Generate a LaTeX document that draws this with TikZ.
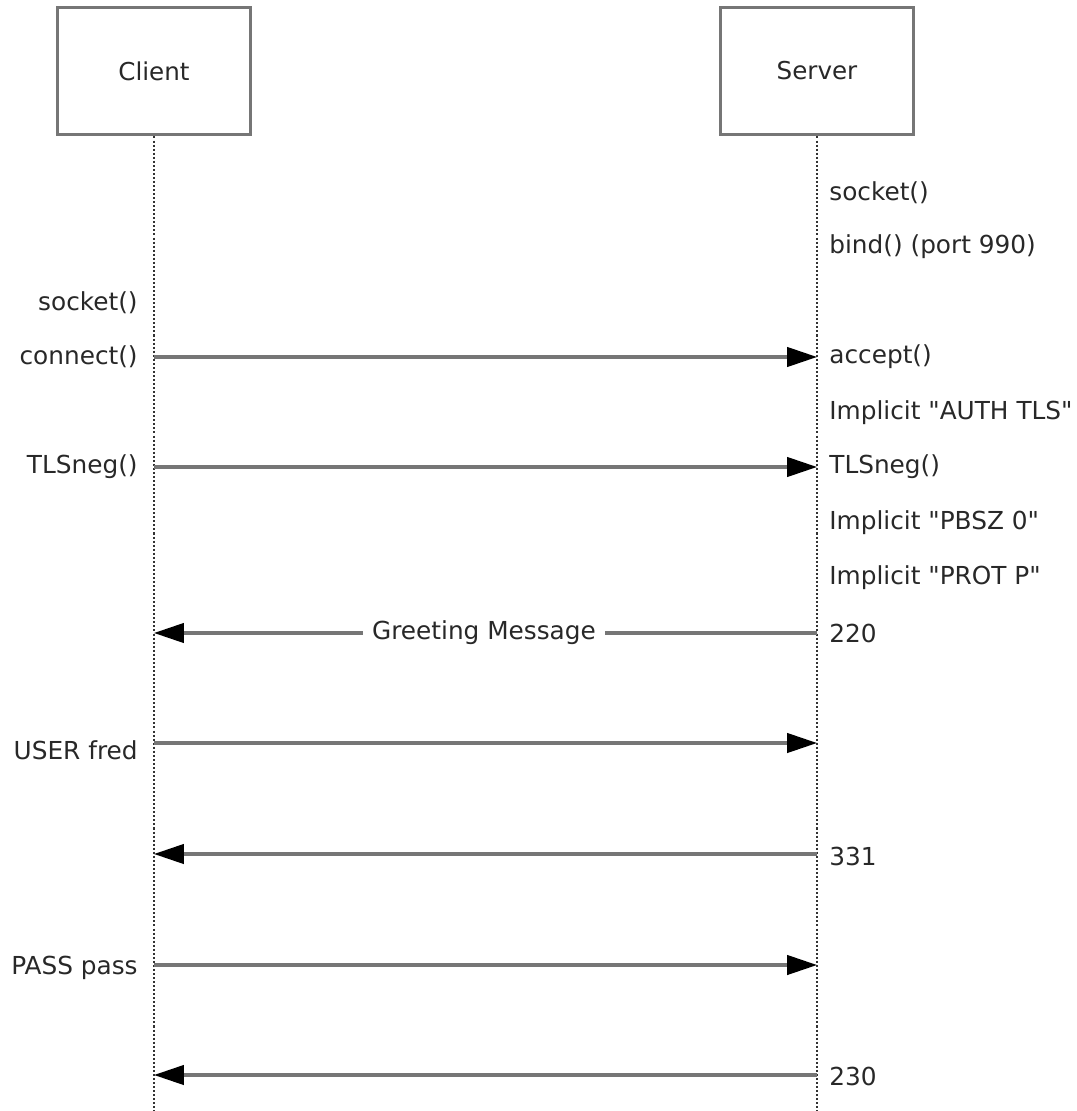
\documentclass[tikz,border=0pt]{standalone}
\usepackage{fontspec}
\setmainfont{DejaVu Sans}
\usetikzlibrary{positioning}
\usetikzlibrary{arrows.meta}
\definecolor{linegray}{RGB}{118,118,118}
\definecolor{dotgray}{RGB}{50,50,50}
\definecolor{textgray}{RGB}{40,40,40}

\begin{document}
\begin{tikzpicture}[x=0.02cm, y=-0.02cm,
  actor/.style={draw=linegray, line width=1.7pt, fill=white,
    minimum width=3.86cm, minimum height=2.56cm,
    font=\fontsize{14}{16}\selectfont, text=textgray},
  lifeline/.style={draw=dotgray, line width=1.3pt, dash pattern=on 1.15pt off 1.15pt},
  msg/.style={draw=linegray, line width=1.8pt,
    -{Triangle[length=17pt, width=11pt, color=black]}},
  lbl/.style={font=\fontsize{14.1}{16}\selectfont, text=textgray, inner sep=0pt}
]
\useasboundingbox (0,0) rectangle (1076,1111);

%---------------------------------------
% Lifeline positions
%---------------------------------------
\def\xC{154}
\def\xS{817}
\def\yEnd{1111}

%====================================================
% Actors
%====================================================
\node[actor] (client) at (\xC,71) {Client};
\node[actor] (server) at (\xS,71) {Server};

\coordinate (clientEnd) at (\xC,\yEnd);
\coordinate (serverEnd) at (\xS,\yEnd);

\draw[lifeline] (client.south) -- (clientEnd);
\draw[lifeline] (server.south) -- (serverEnd);

%====================================================
% Messages
%====================================================
% ---- connect / accept ----
\coordinate (c1) at (\xC,357);
\coordinate (s1) at (\xS,357);
\draw[msg] (c1) -- (s1);

% ---- TLS negotiation ----
\coordinate (c2) at (\xC,467);
\coordinate (s2) at (\xS,467);
\draw[msg] (c2) -- (s2);

% ---- 220 greeting ----
\coordinate (c3) at (\xC,633);
\coordinate (s3) at (\xS,633);
\draw[msg] (s3) -- (c3);
\node[lbl, fill=white, inner xsep=5pt] (greet) at (484,633) {Greeting Message};

% ---- USER ----
\coordinate (c4) at (\xC,743);
\coordinate (s4) at (\xS,743);
\draw[msg] (c4) -- (s4);

% ---- 331 ----
\coordinate (c5) at (\xC,854);
\coordinate (s5) at (\xS,854);
\draw[msg] (s5) -- (c5);

% ---- PASS ----
\coordinate (c6) at (\xC,965);
\coordinate (s6) at (\xS,965);
\draw[msg] (c6) -- (s6);

% ---- 230 ----
\coordinate (c7) at (\xC,1075);
\coordinate (s7) at (\xS,1075);
\draw[msg] (s7) -- (c7);

%====================================================
% Client side labels
%====================================================
\node[lbl, anchor=east] (cSocket)  at (138,303) {socket()};
\node[lbl, anchor=east] (cConnect) at (138,357) {connect()};
\node[lbl, anchor=east] (cTLS)     at (138,467) {TLSneg()};
\node[lbl, anchor=east] (cUser)    at (138,750) {USER fred};
\node[lbl, anchor=east] (cPass)    at (138,968) {PASS pass};

%====================================================
% Server side labels
%====================================================
\node[lbl, anchor=west] (sSocket) at (829,193) {socket()};
\node[lbl, anchor=west] (sBind)   at (829,247) {bind() (port 990)};
\node[lbl, anchor=west] (sAccept) at (829,357) {accept()};
\node[lbl, anchor=west] (sAuth)   at (829,413) {Implicit \textquotedbl AUTH TLS\textquotedbl};
\node[lbl, anchor=west] (sTLS)    at (829,467) {TLSneg()};
\node[lbl, anchor=west] (sPbsz)   at (829,523) {Implicit \textquotedbl PBSZ 0\textquotedbl};
\node[lbl, anchor=west] (sProt)   at (829,578) {Implicit \textquotedbl PROT P\textquotedbl};
\node[lbl, anchor=west] (s220)    at (829,633) {220};
\node[lbl, anchor=west] (s331)    at (829,856) {331};
\node[lbl, anchor=west] (s230)    at (829,1076) {230};

\end{tikzpicture}
\end{document}
